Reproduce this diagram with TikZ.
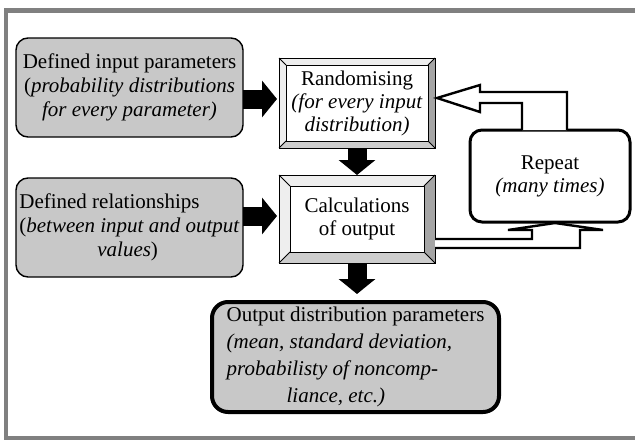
\documentclass[tikz,border=0pt]{standalone}
\usepackage{fontspec}
\setmainfont{Liberation Serif}
\usetikzlibrary{calc, arrows.meta}

\definecolor{BoxGray}{RGB}{200,200,200}
\definecolor{FrameGray}{RGB}{128,128,128}
\definecolor{BevelDark}{RGB}{165,165,165}
\definecolor{BevelMid}{RGB}{205,205,205}
\definecolor{BevelLight}{RGB}{238,238,238}

% raised frame round a node: #1 node name, #2 width of the bevel
\newcommand{\bevelframe}[2]{%
  \fill[BevelLight] (#1.north west) -- (#1.north east) -- ($(#1.north east)+(-#2,#2)$) -- ($(#1.north west)+(#2,#2)$) -- cycle;
  \fill[BevelLight] (#1.north west) -- ($(#1.north west)+(#2,#2)$) -- ($(#1.south west)+(#2,-#2)$) -- (#1.south west) -- cycle;
  \fill[BevelDark] (#1.north east) -- (#1.south east) -- ($(#1.south east)+(-#2,-#2)$) -- ($(#1.north east)+(-#2,#2)$) -- cycle;
  \fill[BevelMid] (#1.south west) -- (#1.south east) -- ($(#1.south east)+(-#2,-#2)$) -- ($(#1.south west)+(#2,-#2)$) -- cycle;
  \draw[line width=0.5pt] (#1.north west) rectangle (#1.south east);
  \draw[line width=0.5pt] ($(#1.north west)+(#2,#2)$) rectangle ($(#1.south east)+(-#2,-#2)$);
  \draw[line width=0.5pt] (#1.north west) -- ++(#2,#2) (#1.north east) -- ++(-#2,#2)
    (#1.south west) -- ++(#2,-#2) (#1.south east) -- ++(-#2,-#2);
}

\begin{document}
\begin{tikzpicture}
[
    x = 0.5pt, y = -0.5pt,
    every node/.style = {font = \fontsize{10.5}{11.5}\selectfont, outer sep = 0pt, inner sep = 1pt},
    BlockArrow/.style = {line width = 9.5pt, -{Triangle[length = 7.5pt, width = 18pt]}},
    HollowArrow/.style = {line width = 1.2pt, fill = white, line join = miter}
  ]

  \tikzset{InputStyle/.style = {draw, fill = BoxGray, rounded corners = 6pt,
                                line width = 0.7pt,
                                minimum width = 113.5pt, minimum height = 49.5pt,
                                font = \fontsize{10.5}{12}\selectfont},
           BevelStyle/.style = {draw, fill = white, line width = 0.5pt,
                                minimum width = 78pt, align = center},
           RepeatStyle/.style = {draw, fill = white, rounded corners = 6pt,
                                 line width = 1.5pt, align = center,
                                 minimum width = 80pt, minimum height = 46pt},
           OutputStyle/.style = {draw, fill = BoxGray, rounded corners = 8pt,
                                 line width = 2pt, align = left,
                                 minimum width = 143.5pt, minimum height = 55pt,
                                 font = \fontsize{10.5}{13.5}\selectfont}}

  \useasboundingbox (0,0) rectangle (635,439);
  \draw[FrameGray, line width = 2.2pt] (640,10.5) -- (6.2,10.5) -- (6.2,437.8) -- (640,437.8);

  \node[InputStyle, align = center] (in1) at (129.5,87.5)
    {Defined input parameters\\(\textit{probability distributions}\\\textit{for every parameter)}};
  \node[InputStyle, align = left] (in2) at (129.5,227.5)
    {Defined relationships\\(\textit{between input and output}\\\hspace*{39pt}\textit{values})};

  \node[BevelStyle, minimum height = 45pt] (rand) at (357,103)
    {Randomising\\\textit{(for every input}\\\textit{distribution)}};
  \node[BevelStyle, minimum height = 44pt] (calc) at (357,219)
    {Calculations\\of output};
  \bevelframe{rand}{7}
  \bevelframe{calc}{11}

  \node[RepeatStyle] (rep) at (550,176) {Repeat\\\textit{(many times)}};

  \node[OutputStyle] (out) at (355.5,357)
    {Output distribution parameters\\\textit{(mean, standard deviation,}\\
     \textit{probabilisty of noncomp-}\\\hspace*{30pt}\textit{liance, etc.)}};

  \coordinate (r0) at ($(rand.west)+(0,-4)$);
  \coordinate (c0) at ($(calc.west)+(0,-3)$);
  \draw[BlockArrow, shorten > = 1pt] (in1.east |- r0) -- (r0);
  \draw[BlockArrow, shorten > = 1pt] (in2.east |- c0) -- (c0);
  \draw[BlockArrow] (rand.south) -- (calc.north);
  \draw[BlockArrow, shorten > = 4pt] (calc.south) -- (calc.south |- out.north);

  \coordinate (tipR) at ($(rand.east)+(2,-5)$);
  \coordinate (tipB) at ($(rep.south)+(5,1)$);
  \draw[HollowArrow] ($(rep.north)+(-28,0)$) |- ($(tipR)+(43,5)$) -- ++(0,9) -- (tipR)
    -- ++(43,-13) -- ++(0,7) -| ($(rep.north)+(17,0)$);
  \draw[HollowArrow] ($(calc.south east)+(0,-24)$) -| ($(tipB)+(-23,7)$) -- ++(-24,0) -- (tipB)
    -- ++(48,7) -- ++(-23,0) |- ($(calc.south east)+(0,-15)$);
\end{tikzpicture}
\end{document}
